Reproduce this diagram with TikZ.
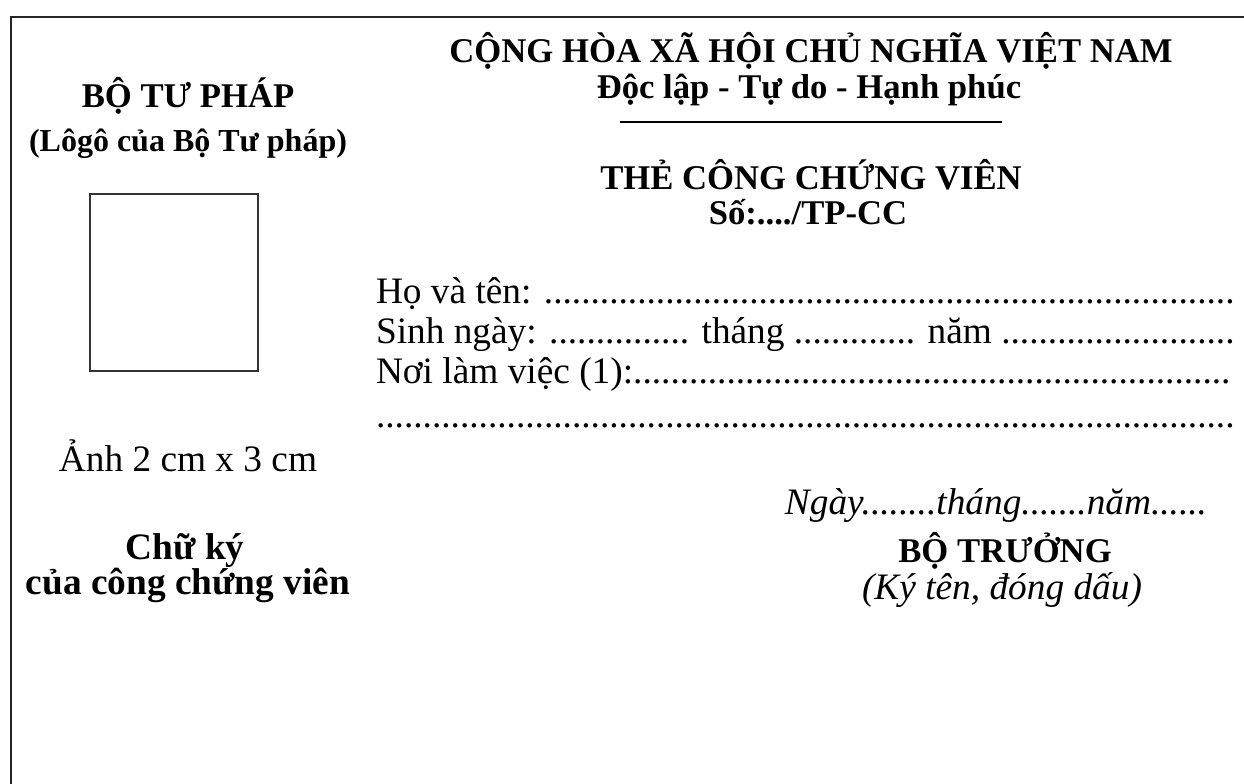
\documentclass[tikz,border=0pt]{standalone}
\usepackage{fontspec}
\setmainfont{Liberation Serif}
\begin{document}
\begin{tikzpicture}[x=0.375pt,y=-0.375pt,
  txt/.style={inner sep=0pt,outer sep=0pt,anchor=base},
  ltxt/.style={inner sep=0pt,outer sep=0pt,anchor=base west,font=\fontsize{14}{16}\selectfont},
  hb/.style={txt,font=\fontsize{13}{15}\selectfont\bfseries},
  hbb/.style={txt,font=\fontsize{14}{16}\selectfont\bfseries},
  rg/.style={txt,font=\fontsize{14}{16}\selectfont},
  it/.style={txt,font=\fontsize{14}{16}\selectfont\itshape},
  frame/.style={draw=black!85,line width=0.6pt},
  photo/.style={draw=black!80,line width=0.7pt}]
\useasboundingbox (0,0) rectangle (1244,784);
\fill[white] (0,0) rectangle (1244,784);
\draw[frame] (11,800) -- (11,17) -- (1260,17);
% left column
\node[hb] (org) at (188,108) {BỘ TƯ PHÁP};
\node[txt,font=\fontsize{12}{14}\selectfont\bfseries] (logo) at (188,152) {(Lôgô của Bộ Tư pháp)};
\node[photo,inner sep=0pt,minimum width=168*0.375pt,minimum height=177*0.375pt,anchor=north west] (photo) at (89,193) {};
\node[rg] (size) at (188,472) {Ảnh 2 cm x 3 cm};
\node[hbb] (sig1) at (185,560) {Chữ ký};
\node[hbb] (sig2) at (188,595) {của công chứng viên};
% header
\node[hb] (nation) at (811,63) {CỘNG HÒA XÃ HỘI CHỦ NGHĨA VIỆT NAM};
\node[hb] (motto) at (809,99) {Độc lập - Tự do - Hạnh phúc};
\coordinate (ulA) at (620,122);
\coordinate (ulB) at (1002,122);
\draw[line width=0.75pt] (ulA) -- (ulB);
\node[hb] (title) at (811,190) {THẺ CÔNG CHỨNG VIÊN};
\node[hb] (num) at (808,225) {Số:..../TP-CC};
% fields
\node[ltxt] (name) at (376,304) {Họ và tên: ..........................................................................};
\node[ltxt] (dob) at (376,344) {Sinh ngày: ............... tháng ............. năm .........................};
\node[ltxt] (work) at (376,384) {Nơi làm việc (1):................................................................};
\node[ltxt] (work2) at (376,428) {............................................................................................};
% signature block
\node[it] (date) at (996,515) {Ngày........tháng.......năm......};
\node[hb] (min) at (1005,563) {BỘ TRƯỞNG};
\node[it] (seal) at (1002,600) {(Ký tên, đóng dấu)};
\end{tikzpicture}
\end{document}
